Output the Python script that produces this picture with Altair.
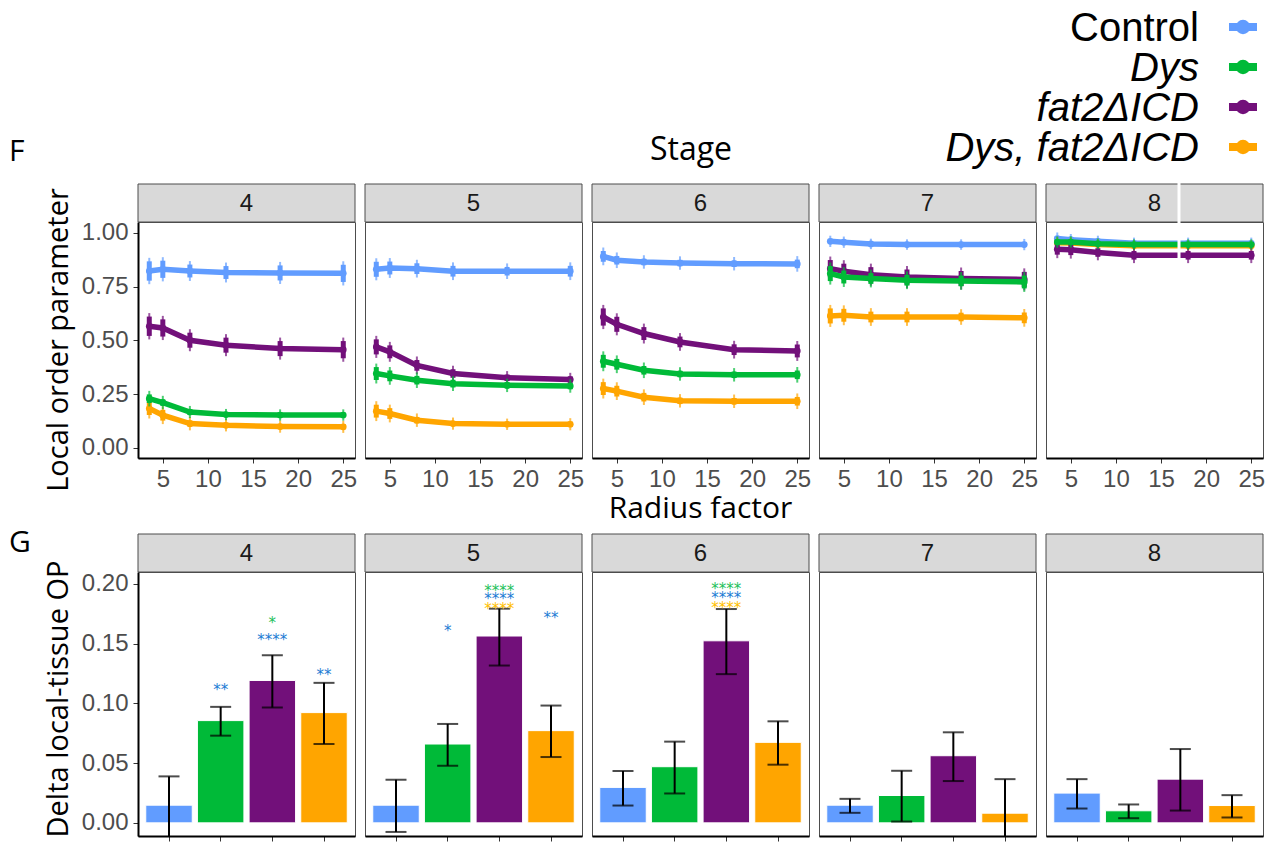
import altair as alt
import pandas as pd

# ---------------- data ----------------
genotypes = ["Control", "Dys", "fat2ΔICD", "Dys, fat2ΔICD"]
palette = ["#619CFF", "#00BA38", "#72107A", "#FFA500"]
draw_order = ["Control", "Dys, fat2ΔICD", "fat2ΔICD", "Dys"]
stages = [4, 5, 6, 7, 8]
radius_factor = [3.5, 5, 8, 12, 18, 25]
x_ticks = [5, 10, 15, 20, 25]
y_ticks_top = [0.0, 0.25, 0.5, 0.75, 1.0]
y_ticks_bottom = [0.0, 0.05, 0.10, 0.15, 0.20]

# local order parameter, one row per stage (4..8), one value per radius factor
op_control = [[0.823, 0.831, 0.823, 0.816, 0.814, 0.812],
              [0.831, 0.837, 0.834, 0.822, 0.822, 0.822],
              [0.891, 0.873, 0.865, 0.860, 0.857, 0.856],
              [0.961, 0.957, 0.949, 0.946, 0.946, 0.946],
              [0.974, 0.969, 0.961, 0.952, 0.952, 0.952]]
op_control_err = [[0.045, 0.040, 0.030, 0.030, 0.035, 0.040],
                  [0.035, 0.030, 0.025, 0.025, 0.020, 0.025],
                  [0.025, 0.020, 0.015, 0.015, 0.015, 0.020],
                  [0.010, 0.010, 0.008, 0.008, 0.008, 0.010],
                  [0.012, 0.010, 0.010, 0.010, 0.010, 0.010]]
op_dys = [[0.229, 0.211, 0.167, 0.155, 0.153, 0.153],
          [0.346, 0.335, 0.315, 0.299, 0.291, 0.288],
          [0.403, 0.389, 0.361, 0.344, 0.340, 0.340],
          [0.811, 0.795, 0.788, 0.780, 0.777, 0.772],
          [0.958, 0.958, 0.950, 0.946, 0.946, 0.946]]
op_dys_err = [[0.020, 0.015, 0.012, 0.010, 0.010, 0.010],
              [0.030, 0.025, 0.020, 0.018, 0.015, 0.015],
              [0.030, 0.025, 0.020, 0.015, 0.015, 0.020],
              [0.035, 0.030, 0.025, 0.025, 0.025, 0.030],
              [0.010, 0.010, 0.008, 0.008, 0.008, 0.008]]
op_fat2 = [[0.566, 0.558, 0.501, 0.478, 0.462, 0.457],
           [0.470, 0.447, 0.384, 0.346, 0.326, 0.318],
           [0.609, 0.575, 0.532, 0.493, 0.457, 0.451],
           [0.834, 0.822, 0.806, 0.795, 0.788, 0.784],
           [0.924, 0.922, 0.909, 0.896, 0.896, 0.896]]
op_fat2_err = [[0.045, 0.040, 0.035, 0.035, 0.035, 0.040],
               [0.035, 0.030, 0.025, 0.020, 0.015, 0.015],
               [0.040, 0.035, 0.030, 0.025, 0.025, 0.030],
               [0.040, 0.035, 0.035, 0.035, 0.035, 0.035],
               [0.025, 0.025, 0.020, 0.020, 0.020, 0.020]]
op_dysfat2 = [[0.183, 0.152, 0.113, 0.105, 0.099, 0.098],
              [0.171, 0.160, 0.129, 0.113, 0.110, 0.110],
              [0.276, 0.264, 0.236, 0.219, 0.217, 0.217],
              [0.614, 0.617, 0.609, 0.609, 0.609, 0.605],
              [0.954, 0.953, 0.946, 0.941, 0.941, 0.941]]
op_dysfat2_err = [[0.030, 0.025, 0.015, 0.012, 0.012, 0.012],
                  [0.030, 0.025, 0.015, 0.012, 0.010, 0.012],
                  [0.030, 0.025, 0.020, 0.015, 0.015, 0.020],
                  [0.035, 0.030, 0.025, 0.025, 0.020, 0.025],
                  [0.010, 0.010, 0.008, 0.008, 0.008, 0.008]]

# delta local-tissue OP, one value per stage (4..8)
delta_control = [0.0148, 0.0148, 0.0297, 0.0148, 0.0249]
delta_control_lo = [-0.012, -0.0076, 0.0145, 0.0084, 0.0120]
delta_control_hi = [0.0389, 0.0361, 0.0434, 0.0201, 0.0366]
delta_dys = [0.0856, 0.0660, 0.0470, 0.0229, 0.0101]
delta_dys_lo = [0.0730, 0.0478, 0.0246, 0.0011, 0.0039]
delta_dys_hi = [0.0971, 0.0828, 0.0680, 0.0436, 0.0154]
delta_fat2 = [0.1192, 0.1564, 0.1524, 0.0562, 0.0366]
delta_fat2_lo = [0.0965, 0.1317, 0.1245, 0.0350, 0.0103]
delta_fat2_hi = [0.1404, 0.1793, 0.1790, 0.0758, 0.0618]
delta_dysfat2 = [0.0923, 0.0772, 0.0674, 0.0081, 0.0145]
delta_dysfat2_lo = [0.0660, 0.0551, 0.0487, -0.020, 0.0045]
delta_dysfat2_hi = [0.1172, 0.0982, 0.0850, 0.0366, 0.0232]

# significance stars
sig_stage = [4, 4, 4, 4, 5, 5, 5, 5, 5, 6, 6, 6]
sig_genotype = ["Dys", "fat2ΔICD", "fat2ΔICD", "Dys, fat2ΔICD",
                "Dys", "fat2ΔICD", "fat2ΔICD", "fat2ΔICD", "Dys, fat2ΔICD",
                "fat2ΔICD", "fat2ΔICD", "fat2ΔICD"]
sig_vs = ["Control", "Dys", "Control", "Control",
          "Control", "Dys", "Control", "Dys, fat2ΔICD", "Control",
          "Dys", "Control", "Dys, fat2ΔICD"]
sig_label = ["**", "*", "****", "**", "*", "****", "****", "****", "**",
             "****", "****", "****"]
sig_y = [0.1147, 0.1706, 0.1566, 0.1273, 0.1636, 0.1978, 0.1908, 0.1827,
         0.1751, 0.1989, 0.1913, 0.1829]
sig_vs_domain = ["Control", "Dys", "Dys, fat2ΔICD"]
sig_colors = ["#1B7BD3", "#22BF5A", "#FFC000"]

# ---------------- tables ----------------
op_tables = {"Control": (op_control, op_control_err), "Dys": (op_dys, op_dys_err),
             "fat2ΔICD": (op_fat2, op_fat2_err), "Dys, fat2ΔICD": (op_dysfat2, op_dysfat2_err)}
rows = []
for g, (vals, errs) in op_tables.items():
    for si, s in enumerate(stages):
        for ri, r in enumerate(radius_factor):
            v, e = vals[si][ri], errs[si][ri]
            rows.append({"stage": s, "genotype": g, "radius": r, "op": v, "lo": v - e, "hi": v + e})
top_df = pd.DataFrame(rows)

d_tables = {"Control": (delta_control, delta_control_lo, delta_control_hi),
            "Dys": (delta_dys, delta_dys_lo, delta_dys_hi),
            "fat2ΔICD": (delta_fat2, delta_fat2_lo, delta_fat2_hi),
            "Dys, fat2ΔICD": (delta_dysfat2, delta_dysfat2_lo, delta_dysfat2_hi)}
rows = []
for g, (m, lo, hi) in d_tables.items():
    for si, s in enumerate(stages):
        rows.append({"stage": s, "genotype": g, "delta": m[si], "lo": lo[si], "hi": hi[si]})
bar_df = pd.DataFrame(rows)

sig_df = pd.DataFrame({"stage": sig_stage, "genotype": sig_genotype, "vs": sig_vs,
                       "stars": sig_label, "sy": sig_y})

legend_df = pd.DataFrame({"label": genotypes, "slot": list(range(len(genotypes)))})

# ---------------- styling ----------------
PW = 217
TH = 236
BH = 264
STRIP = 38
TICK_FONT = "Liberation Sans"
TITLE_FONT = "Open Sans"
LAB = "#4D4D4D"

color_scale = alt.Scale(domain=genotypes, range=palette)
x_top_scale = alt.Scale(domain=[2.25, 26.3], nice=False, zero=False)
y_top_scale = alt.Scale(domain=[-0.047, 1.051], nice=False, zero=False)
y_bot_scale = alt.Scale(domain=[-0.011, 0.210], nice=False, zero=False)
x_bot_scale = alt.Scale(domain=genotypes, paddingInner=0.1, paddingOuter=0.15)


def x_axis_top():
    return alt.Axis(values=x_ticks, title=None, grid=False, labelFont=TICK_FONT,
                    labelFontSize=24, labelColor=LAB, tickColor="#333333", tickSize=5,
                    domainColor="black", domainWidth=2, labelPadding=4,
                    labelFlush=False, labelOverlap=False)


def y_axis(vals, fmt):
    return alt.Axis(values=vals, format=fmt, title=None, grid=False, labelFont=TICK_FONT,
                    labelFontSize=24, labelColor=LAB, tickColor="#333333", tickSize=5,
                    domainColor="black", domainWidth=2, labelPadding=5)


def strip_layers(stage):
    sdf = pd.DataFrame({"stage": [str(stage)]})
    rect = alt.Chart(sdf).mark_rect(fill="#D9D9D9", stroke="#4D4D4D", strokeWidth=1).encode(
        x=alt.value(0), x2=alt.value(PW), y=alt.value(-STRIP), y2=alt.value(0))
    txt = alt.Chart(sdf).mark_text(font=TICK_FONT, fontSize=24, color="#1A1A1A",
                                   baseline="middle").encode(
        text="stage:N", x=alt.value(PW / 2), y=alt.value(-STRIP / 2 + 1))
    return [rect, txt]


def label_layer(text, x, y, size, angle=0, align="center", baseline="middle",
                font=TITLE_FONT, style="normal"):
    df = pd.DataFrame({"t": [text]})
    return alt.Chart(df).mark_text(font=font, fontSize=size, angle=angle, align=align,
                                   baseline=baseline, color="black", fontStyle=style).encode(
        text="t:N", x=alt.value(x), y=alt.value(y))


def legend_layers():
    # legend drawn above the last top panel
    leg_y = alt.Y("slot:Q", scale=alt.Scale(domain=[0, 3], range=[-195, -75]), axis=None)
    leg_c = alt.Color("label:N", scale=color_scale, legend=None)
    leg = alt.Chart(legend_df)
    return [
        leg.mark_rule(strokeWidth=8).encode(x=alt.value(183), x2=alt.value(211),
                                            y=leg_y, color=leg_c),
        leg.mark_circle(size=210, opacity=1).encode(x=alt.value(197), y=leg_y, color=leg_c),
        leg.transform_filter(alt.datum.label == "Control").mark_text(
            font=TICK_FONT, fontSize=40, align="right", baseline="middle", dy=2,
            color="black").encode(x=alt.value(153), y=leg_y, text="label:N"),
        leg.transform_filter(alt.datum.label != "Control").mark_text(
            font=TICK_FONT, fontSize=40, align="right", baseline="middle", dy=2,
            fontStyle="italic", color="black").encode(x=alt.value(153), y=leg_y,
                                                      text="label:N"),
    ]


def top_panel(i, stage):
    first = i == 0
    yax = y_axis(y_ticks_top, ".2f") if first else None
    layers = strip_layers(stage)
    for g in draw_order:
        b = alt.Chart(top_df).transform_filter(
            (alt.datum.stage == stage) & (alt.datum.genotype == g))
        xe = alt.X("radius:Q", scale=x_top_scale, axis=x_axis_top())
        ce = alt.Color("genotype:N", scale=color_scale, legend=None)
        layers.append(b.mark_line(strokeWidth=5.5).encode(
            x=xe, y=alt.Y("op:Q", scale=y_top_scale, axis=yax), color=ce))
        layers.append(b.mark_rule(strokeWidth=5).encode(
            x=xe, y=alt.Y("lo:Q", scale=y_top_scale, axis=yax), y2="hi:Q", color=ce))
        layers.append(b.mark_tick(thickness=2, size=7).encode(
            x=xe, y=alt.Y("lo:Q", scale=y_top_scale, axis=yax), color=ce))
        layers.append(b.mark_tick(thickness=2, size=7).encode(
            x=xe, y=alt.Y("hi:Q", scale=y_top_scale, axis=yax), color=ce))
        layers.append(b.mark_circle(size=45, opacity=1).encode(
            x=xe, y=alt.Y("op:Q", scale=y_top_scale, axis=yax), color=ce))
    if first:
        layers.append(label_layer("Local order parameter", -79, 118, 29, angle=270))
        layers.append(label_layer("F", -129, -61, 30, align="left", baseline="alphabetic"))
    if stage == 6:
        layers.append(label_layer("Radius factor", PW / 2, 287, 30))
        layers.append(label_layer("Stage", 99, -62, 32, baseline="alphabetic"))
    if stage == 8:
        # thin white seam that runs through the last panel in the original figure
        seam = alt.Chart(pd.DataFrame({"s": [stage]})).mark_rule(
            color="white", strokeWidth=3).encode(
            x=alt.value(133), y=alt.value(-STRIP - 1), y2=alt.value(TH - 1))
        layers.append(seam)
    chart = alt.layer(*layers).properties(width=PW, height=TH)
    if stage == 8:
        chart = alt.layer(chart, *legend_layers()).resolve_scale(y="independent")
    return chart


def bottom_panel(i, stage):
    first = i == 0
    yax = y_axis(y_ticks_bottom, ".2f") if first else None
    xax = alt.Axis(labels=False, title=None, ticks=True, tickSize=5, tickColor="#333333",
                   domainColor="black", domainWidth=2, grid=False)
    xe = alt.X("genotype:N", sort=genotypes, scale=x_bot_scale, axis=xax)
    layers = strip_layers(stage)
    b = alt.Chart(bar_df).transform_filter(alt.datum.stage == stage)
    layers.append(b.mark_bar(stroke="white", strokeWidth=1).encode(
        x=xe, y=alt.Y("delta:Q", scale=y_bot_scale, axis=yax),
        fill=alt.Fill("genotype:N", scale=color_scale, legend=None)))
    layers.append(b.mark_rule(color="black", strokeWidth=2, clip=True).encode(
        x=xe, y=alt.Y("lo:Q", scale=y_bot_scale, axis=yax), y2="hi:Q"))
    layers.append(b.mark_tick(color="black", thickness=2, size=21, clip=True).encode(
        x=xe, y=alt.Y("lo:Q", scale=y_bot_scale, axis=yax)))
    layers.append(b.mark_tick(color="black", thickness=2, size=21, clip=True).encode(
        x=xe, y=alt.Y("hi:Q", scale=y_bot_scale, axis=yax)))
    s = alt.Chart(sig_df).transform_filter(alt.datum.stage == stage)
    layers.append(s.mark_text(font="DejaVu Sans", fontSize=15, baseline="alphabetic",
                              dy=9).encode(
        x=xe, y=alt.Y("sy:Q", scale=y_bot_scale, axis=yax), text="stars:N",
        color=alt.Color("vs:N", scale=alt.Scale(domain=sig_vs_domain, range=sig_colors),
                        legend=None)))
    if first:
        layers.append(label_layer("Delta local-tissue OP", -79, 127, 29, angle=270))
        layers.append(label_layer("G", -129, -20, 30, align="left", baseline="alphabetic"))
    return alt.layer(*layers).properties(width=PW, height=BH)


panels = [top_panel(i, s) for i, s in enumerate(stages)] + \
         [bottom_panel(i, s) for i, s in enumerate(stages)]

chart = alt.concat(*panels, columns=5, spacing={"row": 114, "column": 10},
                   bounds="flush").properties(
    padding=0, background="white"
).resolve_scale(color="independent", fill="independent").configure_view(
    stroke="#4D4D4D", strokeWidth=1)

chart.save("out.html", embed_options={"renderer": "svg", "actions": False})
